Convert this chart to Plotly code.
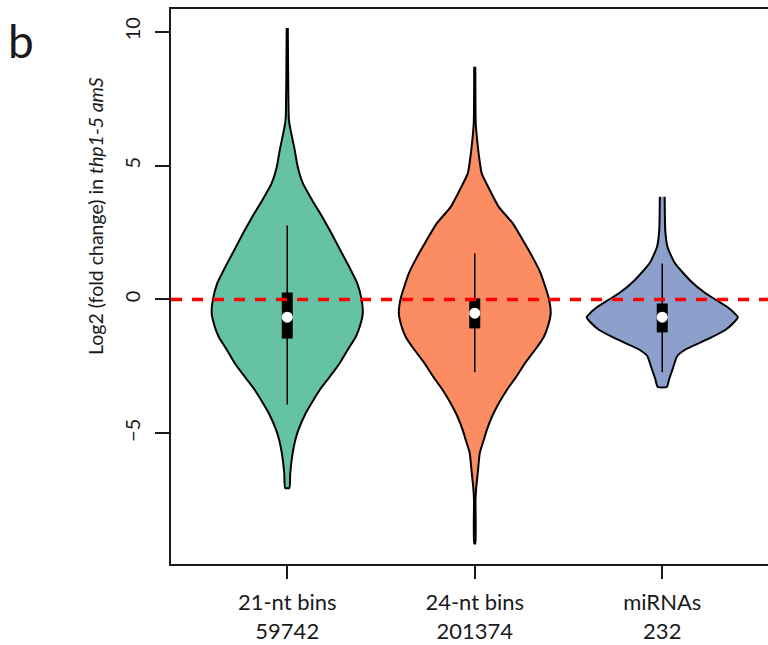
import plotly.graph_objects as go

# ---- data ----
categories = ["21-nt bins", "24-nt bins", "miRNAs"]
counts = ["59742", "201374", "232"]
colors = ["#66C2A5", "#FC8D62", "#8DA0CB"]

# density profiles: y level and half width (x units)
v1_y = [10.14, 8.19, 6.81, 6.59, 6.22, 5.58, 4.95, 4.35, 3.71, 3.08, 2.48, 1.84, 1.21, 0.61, 0.05,
        -0.51, -0.96, -1.40, -1.85, -2.38, -2.91, -3.38, -3.76, -4.24, -4.88, -5.25, -5.73, -6.48, -7.04]
v1_w = [0.003, 0.005, 0.008, 0.011, 0.021, 0.040, 0.056, 0.083, 0.133, 0.187, 0.235, 0.283, 0.331, 0.373, 0.395,
        0.403, 0.389, 0.365, 0.325, 0.280, 0.224, 0.173, 0.139, 0.099, 0.059, 0.043, 0.029, 0.016, 0.011]

v2_y = [8.69, 6.64, 6.08, 5.33, 4.71, 4.09, 3.46, 2.84, 2.22, 1.60, 0.97, 0.04,
        -0.51, -0.96, -1.40, -1.85, -2.34, -2.91, -3.38, -4.24, -4.88, -5.25, -5.73, -6.48, -7.01, -7.50, -9.11]
v2_w = [0.003, 0.005, 0.011, 0.023, 0.037, 0.080, 0.128, 0.203, 0.256, 0.307, 0.352, 0.395,
        0.405, 0.392, 0.368, 0.325, 0.272, 0.219, 0.171, 0.101, 0.064, 0.048, 0.027, 0.016, 0.008, 0.004, 0.003]

v3_y = [3.84, 2.59, 1.96, 1.36, 0.72, 0.24, -0.02, -0.28, -0.47, -0.66, -0.88, -1.14, -1.40, -1.63, -1.85, -2.11, -2.59, -2.97, -3.27]
v3_w = [0.013, 0.016, 0.028, 0.067, 0.147, 0.229, 0.288, 0.347, 0.379, 0.403, 0.379, 0.336, 0.267, 0.197, 0.128, 0.080, 0.056, 0.037, 0.024]

whisk_hi = [2.76, 1.72, 1.34]
whisk_lo = [-3.92, -2.72, -2.72]
q3 = [0.26, 0.04, -0.15]
q1 = [-1.46, -1.08, -1.23]
medians = [-0.66, -0.51, -0.66]

profiles = [(v1_y, v1_w), (v2_y, v2_w), (v3_y, v3_w)]
positions = [1, 2, 3]

FONT = "Lato"
INK = "#1a1a1a"
fig = go.Figure()

for pos, (ys, ws), col in zip(positions, profiles, colors):
    xs = [pos + w for w in ws] + [pos - w for w in reversed(ws)]
    yy = list(ys) + list(reversed(ys))
    fig.add_trace(go.Scatter(x=xs, y=yy, mode="lines", fill="toself",
                             fillcolor=col, line=dict(color="black", width=2, shape="spline", smoothing=0.5),
                             hoverinfo="skip", showlegend=False))

for i, pos in enumerate(positions):
    fig.add_trace(go.Scatter(x=[pos, pos], y=[whisk_lo[i], whisk_hi[i]], mode="lines",
                             line=dict(color="black", width=1.5), showlegend=False, hoverinfo="skip"))
    fig.add_trace(go.Scatter(x=[pos, pos], y=[q1[i], q3[i]], mode="lines",
                             line=dict(color="black", width=11), showlegend=False, hoverinfo="skip"))
    fig.add_trace(go.Scatter(x=[pos], y=[medians[i]], mode="markers",
                             marker=dict(color="white", size=11, line=dict(width=0)),
                             showlegend=False, hoverinfo="skip"))

fig.add_shape(type="line", xref="paper", x0=0, x1=1, yref="y", y0=0, y1=0,
              line=dict(color="#FF0000", width=3.5, dash="11px,10px"), layer="above")

ticktext = [f"{c}<br>{n}" for c, n in zip(categories, counts)]

fig.update_layout(
    width=768, height=645,
    margin=dict(l=171, r=0, t=9, b=81),
    plot_bgcolor="white", paper_bgcolor="white",
    font=dict(family=FONT, size=19, color=INK),
    xaxis=dict(range=[0.38, 3.564], tickvals=positions, ticktext=ticktext,
               showgrid=False, zeroline=False, showline=True, mirror=True,
               linecolor=INK, linewidth=1.5, ticks="outside", ticklen=13,
               tickwidth=1.5, tickcolor=INK, tickfont=dict(size=22), ticklabelstandoff=5),
    yaxis=dict(range=[-9.88, 10.85], tickvals=[-5, 0, 5, 10],
               showgrid=False, zeroline=False, showline=True, mirror=False,
               linecolor=INK, linewidth=1.5, ticks="outside", ticklen=14,
               tickwidth=1.5, tickcolor=INK, tickangle=-90, tickfont=dict(size=20),
               ticklabelstandoff=7),
    annotations=[
        dict(text="Log2 (fold change) in <i>thp1-5 amS</i>", xref="paper", yref="paper",
             x=-0.1273, y=0.627, xanchor="center", yanchor="middle", textangle=-90,
             showarrow=False, font=dict(family=FONT, size=19.5, color=INK)),
        dict(text="b", xref="paper", yref="paper", x=-0.251, y=0.944,
             xanchor="center", yanchor="middle", showarrow=False,
             font=dict(family=FONT, size=46, color=INK)),
    ],
)

fig.write_html("out.html")
